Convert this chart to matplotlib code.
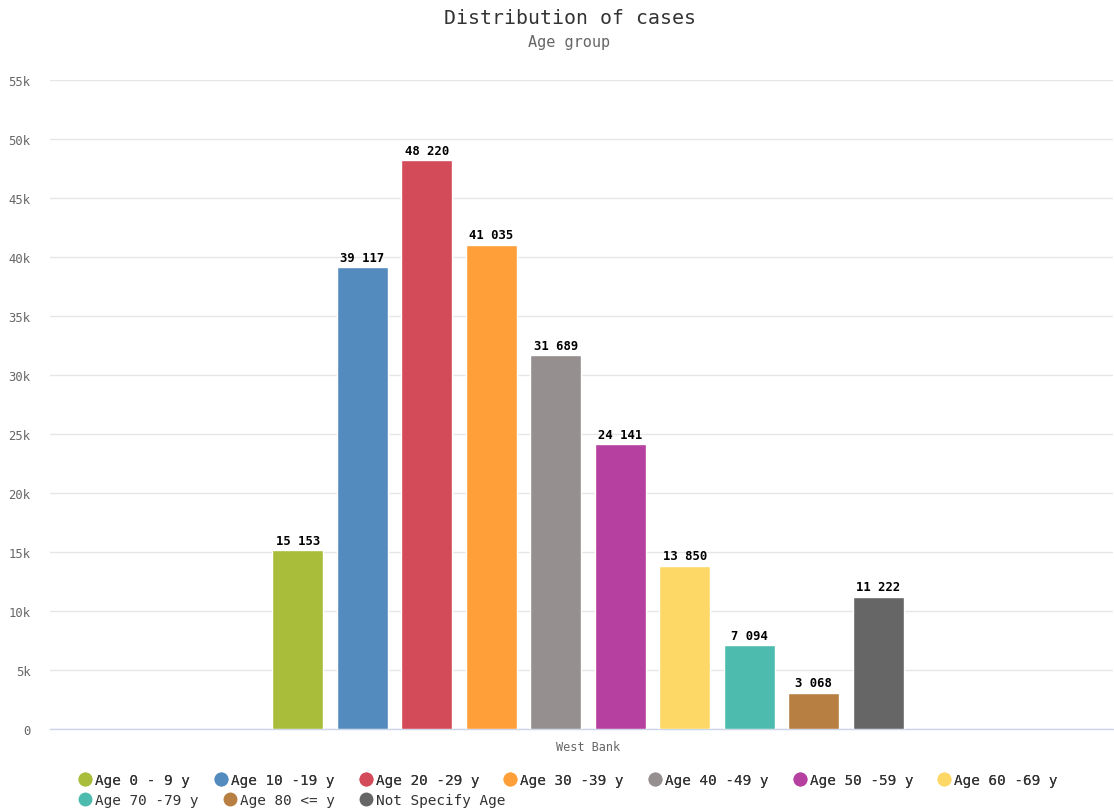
import matplotlib
matplotlib.use("Agg")
import matplotlib.pyplot as plt
from matplotlib.lines import Line2D
from matplotlib.ticker import FuncFormatter

plt.rcParams['font.family'] = ['DejaVu Sans Mono']

# data
labels = ['Age 0 - 9 y', 'Age 10 -19 y', 'Age 20 -29 y', 'Age 30 -39 y',
          'Age 40 -49 y', 'Age 50 -59 y', 'Age 60 -69 y', 'Age 70 -79 y',
          'Age 80 <= y', 'Not Specify Age']
cases = [15153, 39117, 48220, 41035, 31689, 24141, 13850, 7094, 3068, 11222]
colors = ['#a9bd3a', '#548bbf', '#d34a58', '#fe9f3a', '#958f8f',
          '#b5409f', '#fed866', '#4dbcae', '#b77f42', '#666666']
category = 'West Bank'

fig = plt.figure(figsize=(11.14, 8.12), dpi=100)
ax = fig.add_axes([50 / 1114, 82 / 812, 1063 / 1114, 649 / 812])

xs = list(range(len(cases)))
bars = ax.bar(xs, cases, width=0.79, color=colors, edgecolor='white',
              linewidth=1, zorder=3)

for x, v in zip(xs, cases):
    txt = '{:,}'.format(v).replace(',', ' ')
    ax.annotate(txt, (x, v), xytext=(0, 2.5), textcoords='offset points',
                ha='center', va='bottom', fontsize=8.8, fontweight='bold',
                color='black')

ax.set_xlim(-3.84, 12.64)
ax.set_ylim(0, 55000)
ax.set_yticks(range(0, 55001, 5000))
ax.yaxis.set_major_formatter(FuncFormatter(lambda v, p: '0' if v == 0 else '%dk' % (v / 1000)))
ax.set_xticks([4.5])
ax.set_xticklabels([category])
ax.tick_params(axis='x', length=0, pad=8, labelsize=8.6, colors='#666666')
ax.tick_params(axis='y', length=0, pad=14, labelsize=8.8, colors='#666666')

ax.grid(axis='y', color='#e6e6e6', linewidth=1, zorder=0)
for s in ['top', 'right', 'left']:
    ax.spines[s].set_visible(False)
ax.spines['bottom'].set_color('#ccd6eb')
ax.spines['bottom'].set_linewidth(1)

fig.text(570 / 1114, 1 - 18.5 / 812, 'Distribution of cases', ha='center', va='center',
         fontsize=14.3, color='#333333')
fig.text(569 / 1114, 1 - 42 / 812, 'Age group', ha='center', va='center',
         fontsize=11, color='#666666')

handles = [Line2D([], [], marker='o', linestyle='', markersize=9,
                  markerfacecolor=c, markeredgecolor=c) for c in colors]

leg_kw = dict(frameon=False, fontsize=10.4, handletextpad=0.1,
              columnspacing=1.55, handlelength=1.2, borderpad=0,
              labelcolor='#333333')
leg1 = fig.legend(handles[:7], labels[:7], ncol=7, loc='center left',
                  bbox_to_anchor=(69 / 1114, 1 - 781 / 812), **leg_kw)
fig.add_artist(leg1)
fig.legend(handles[7:], labels[7:], ncol=3, loc='center left',
           bbox_to_anchor=(69 / 1114, 1 - 801 / 812), **leg_kw)

fig.savefig('out.png', dpi=100)
